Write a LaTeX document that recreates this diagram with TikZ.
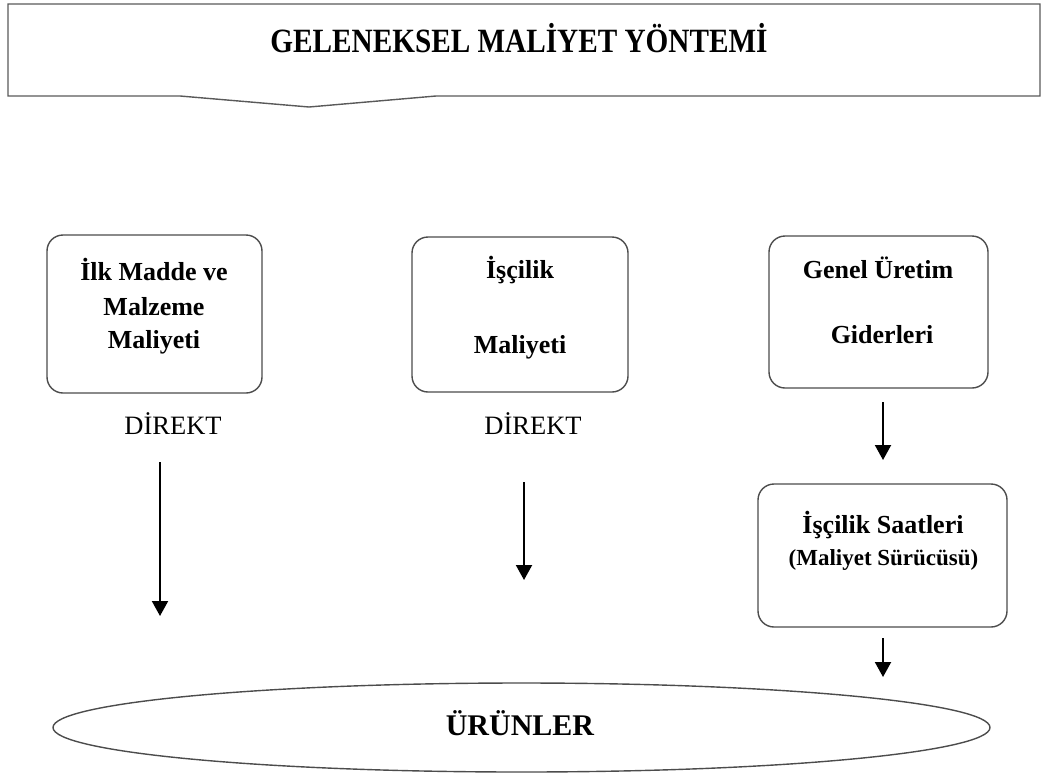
\documentclass[tikz,border=0pt]{standalone}
\usepackage{fontspec}
\setmainfont{Liberation Serif}
\newfontfamily\titlefont[FakeStretch=0.86]{Liberation Serif}
\usetikzlibrary{shapes.geometric,arrows.meta}
\tikzset{
  box/.style={draw=black!70, line width=1.4pt, rounded corners=16pt, inner sep=0pt},
  boxtxt/.style={anchor=base, inner sep=0pt, font=\fontsize{26}{30}\selectfont\bfseries},
  smalltxt/.style={anchor=base, inner sep=0pt, font=\fontsize{23}{28}\selectfont\bfseries},
  dirtxt/.style={anchor=base, inner sep=0pt, font=\fontsize{26.5}{30}\selectfont},
  arr/.style={line width=2pt, -{Triangle[width=16pt,length=15pt]}},
}
\begin{document}
\begin{tikzpicture}[x=1pt,y=-1pt]
\useasboundingbox (0,0) rectangle (1043,774);
% banner
\draw[draw=black!65, line width=1.4pt]
  (8,4) -- (1040,4) -- (1040,96) -- (436,96) -- (309,107) -- (180,96) -- (8,96) -- cycle;
\node[anchor=base, inner sep=0pt, font=\fontsize{34}{36}\titlefont\bfseries] (title) at (519,52) {GELENEKSEL MALİYET YÖNTEMİ};
% boxes
\node[box, minimum width=215pt, minimum height=158pt] (b1) at (154.5,314) {};
\node[box, minimum width=216pt, minimum height=155pt] (b2) at (520,314.5) {};
\node[box, minimum width=219pt, minimum height=152pt] (b3) at (878.5,312) {};
\node[box, minimum width=249pt, minimum height=143pt] (b4) at (882.5,555.5) {};
% box texts
\node[boxtxt] (t11) at (154,280) {İlk Madde ve};
\node[boxtxt] (t12) at (154,315) {Malzeme};
\node[boxtxt] (t13) at (154,348) {Maliyeti};
\node[boxtxt] (t21) at (520,278) {İşçilik};
\node[boxtxt] (t22) at (520,353) {Maliyeti};
\node[boxtxt] (t31) at (878,278) {Genel Üretim};
\node[boxtxt] (t32) at (882,343) {Giderleri};
\node[boxtxt] (t41) at (883,533) {İşçilik Saatleri};
\node[smalltxt] (t42) at (883.5,565) {(Maliyet Sürücüsü)};
% direkt labels
\node[dirtxt] (d1) at (173,434) {DİREKT};
\node[dirtxt] (d2) at (533,434) {DİREKT};
% ellipse
\node[ellipse, draw=black!70, line width=1.4pt, minimum width=937pt, minimum height=89pt, inner sep=0pt] (urun) at (521.5,727.5) {};
\node[anchor=base, inner sep=0pt, font=\fontsize{30}{34}\selectfont\bfseries] (urt) at (520,735) {ÜRÜNLER};
% arrow coordinates
\coordinate (a1s) at (160,462); \coordinate (a1e) at (160,616);
\coordinate (a2s) at (524,482); \coordinate (a2e) at (524,580);
\coordinate (a3s) at (883,402); \coordinate (a3e) at (883,460);
\coordinate (a4s) at (883,638); \coordinate (a4e) at (883,677);
\draw[arr] (a1s) -- (a1e);
\draw[arr] (a2s) -- (a2e);
\draw[arr] (a3s) -- (a3e);
\draw[arr] (a4s) -- (a4e);
\end{tikzpicture}
\end{document}
